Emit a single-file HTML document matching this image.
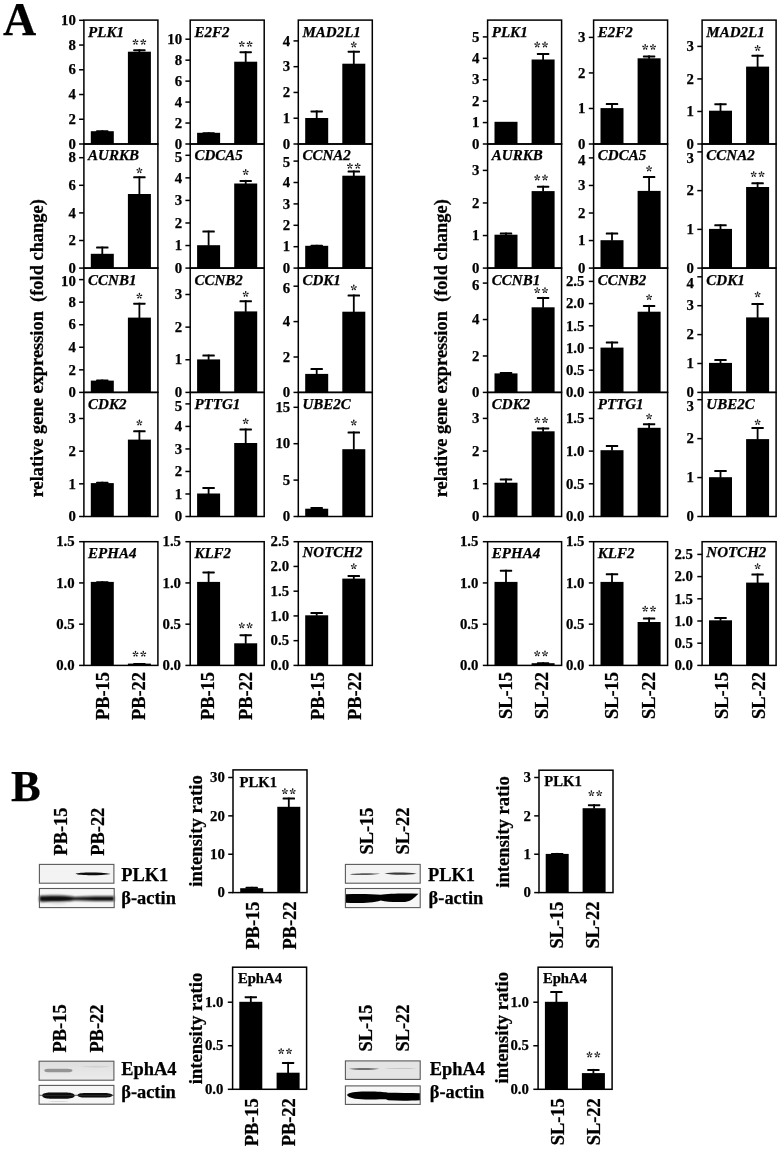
<!DOCTYPE html>
<html><head><meta charset="utf-8"><style>
html,body{margin:0;padding:0;background:#fff;overflow:hidden;width:781px;height:1150px;-webkit-font-smoothing:antialiased;}
svg{display:block;will-change:transform;}
text{font-family:"Liberation Serif",serif;stroke:#000;stroke-width:0.25px;}
.st{stroke:none;}
.tk{font-size:14.8px;font-weight:bold;text-anchor:end;}
.gn{font-size:15.0px;font-weight:bold;font-style:italic;}
.gb{font-size:15.0px;font-weight:bold;}
.st{font-size:15.0px;text-anchor:middle;letter-spacing:1px;}
.xl{font-size:18.4px;font-weight:bold;text-anchor:end;}
.yt{font-size:18.4px;font-weight:bold;text-anchor:middle;}
.it{font-size:18.7px;font-weight:bold;text-anchor:middle;}
.pl{font-size:46px;font-weight:bold;}
.bl{font-size:18.4px;font-weight:bold;}
</style></head><body>
<svg width="781" height="1150" viewBox="0 0 781 1150">
<defs>
<g id="ast" fill="#111"><path d="M0,0 C0.7,-0.2 1.6,-0.8 2.3,-0.78 A0.78,0.78 0 0 1 2.3,0.78 C1.6,0.8 0.7,0.2 0,0Z" transform="rotate(-90)"/><path d="M0,0 C0.7,-0.2 1.6,-0.8 2.3,-0.78 A0.78,0.78 0 0 1 2.3,0.78 C1.6,0.8 0.7,0.2 0,0Z" transform="rotate(-18)"/><path d="M0,0 C0.7,-0.2 1.6,-0.8 2.3,-0.78 A0.78,0.78 0 0 1 2.3,0.78 C1.6,0.8 0.7,0.2 0,0Z" transform="rotate(54)"/><path d="M0,0 C0.7,-0.2 1.6,-0.8 2.3,-0.78 A0.78,0.78 0 0 1 2.3,0.78 C1.6,0.8 0.7,0.2 0,0Z" transform="rotate(126)"/><path d="M0,0 C0.7,-0.2 1.6,-0.8 2.3,-0.78 A0.78,0.78 0 0 1 2.3,0.78 C1.6,0.8 0.7,0.2 0,0Z" transform="rotate(198)"/></g>
<filter id="s5" x="-20%" y="-100%" width="140%" height="300%"><feGaussianBlur stdDeviation="0.5"/></filter>
<filter id="s6" x="-20%" y="-100%" width="140%" height="300%"><feGaussianBlur stdDeviation="0.6"/></filter>
<filter id="s8" x="-20%" y="-100%" width="140%" height="300%"><feGaussianBlur stdDeviation="0.8"/></filter>
</defs>
<rect x="90.8" y="131.2" width="23" height="12.8"/>
<rect x="101.4" y="130.2" width="1.8" height="1.5"/>
<rect x="96.1" y="130.2" width="12.4" height="2.0" rx="0.6"/>
<rect x="127.9" y="51.7" width="23" height="92.3"/>
<rect x="138.5" y="49.2" width="1.8" height="3"/>
<rect x="133.2" y="49.2" width="12.4" height="2.0" rx="0.6"/>
<rect x="83.9" y="20.1" width="74" height="123.9" fill="none" stroke="#000" stroke-width="1.5"/>
<line x1="79.1" y1="144" x2="83.9" y2="144" stroke="#000" stroke-width="1.5"/>
<text class="tk" x="75.8" y="148.7">0</text>
<line x1="79.1" y1="119.26" x2="83.9" y2="119.26" stroke="#000" stroke-width="1.5"/>
<text class="tk" x="75.8" y="123.96">2</text>
<line x1="79.1" y1="94.52" x2="83.9" y2="94.52" stroke="#000" stroke-width="1.5"/>
<text class="tk" x="75.8" y="99.22">4</text>
<line x1="79.1" y1="69.78" x2="83.9" y2="69.78" stroke="#000" stroke-width="1.5"/>
<text class="tk" x="75.8" y="74.48">6</text>
<line x1="79.1" y1="45.04" x2="83.9" y2="45.04" stroke="#000" stroke-width="1.5"/>
<text class="tk" x="75.8" y="49.74">8</text>
<line x1="79.1" y1="20.3" x2="83.9" y2="20.3" stroke="#000" stroke-width="1.5"/>
<text class="tk" x="75.8" y="25">10</text>
<use href="#ast" x="135.5" y="42"/>
<use href="#ast" x="143.3" y="42"/>
<text class="gn" x="88.1" y="37.3">PLK1</text>
<rect x="197.1" y="132.8" width="23" height="11.2"/>
<rect x="207.7" y="132.3" width="1.8" height="1"/>
<rect x="202.4" y="132.3" width="12.4" height="2.0" rx="0.6"/>
<rect x="234.2" y="61.7" width="23" height="82.3"/>
<rect x="244.8" y="51.2" width="1.8" height="11"/>
<rect x="239.5" y="51.2" width="12.4" height="2.0" rx="0.6"/>
<rect x="190.2" y="20.1" width="74" height="123.9" fill="none" stroke="#000" stroke-width="1.5"/>
<line x1="185.4" y1="144" x2="190.2" y2="144" stroke="#000" stroke-width="1.5"/>
<text class="tk" x="182.1" y="148.7">0</text>
<line x1="185.4" y1="123.04" x2="190.2" y2="123.04" stroke="#000" stroke-width="1.5"/>
<text class="tk" x="182.1" y="127.74">2</text>
<line x1="185.4" y1="102.08" x2="190.2" y2="102.08" stroke="#000" stroke-width="1.5"/>
<text class="tk" x="182.1" y="106.78">4</text>
<line x1="185.4" y1="81.12" x2="190.2" y2="81.12" stroke="#000" stroke-width="1.5"/>
<text class="tk" x="182.1" y="85.82">6</text>
<line x1="185.4" y1="60.16" x2="190.2" y2="60.16" stroke="#000" stroke-width="1.5"/>
<text class="tk" x="182.1" y="64.86">8</text>
<line x1="185.4" y1="39.2" x2="190.2" y2="39.2" stroke="#000" stroke-width="1.5"/>
<text class="tk" x="182.1" y="43.9">10</text>
<use href="#ast" x="241.8" y="44"/>
<use href="#ast" x="249.6" y="44"/>
<text class="gn" x="194.4" y="37.3">E2F2</text>
<rect x="305.2" y="118" width="23" height="26"/>
<rect x="315.8" y="110.4" width="1.8" height="8.1"/>
<rect x="310.5" y="110.4" width="12.4" height="2.0" rx="0.6"/>
<rect x="342.3" y="63.7" width="23" height="80.3"/>
<rect x="352.9" y="50.7" width="1.8" height="13.5"/>
<rect x="347.6" y="50.7" width="12.4" height="2.0" rx="0.6"/>
<rect x="298.3" y="20.1" width="74" height="123.9" fill="none" stroke="#000" stroke-width="1.5"/>
<line x1="293.5" y1="144" x2="298.3" y2="144" stroke="#000" stroke-width="1.5"/>
<text class="tk" x="290.2" y="148.7">0</text>
<line x1="293.5" y1="118.22" x2="298.3" y2="118.22" stroke="#000" stroke-width="1.5"/>
<text class="tk" x="290.2" y="122.92">1</text>
<line x1="293.5" y1="92.45" x2="298.3" y2="92.45" stroke="#000" stroke-width="1.5"/>
<text class="tk" x="290.2" y="97.15">2</text>
<line x1="293.5" y1="66.68" x2="298.3" y2="66.68" stroke="#000" stroke-width="1.5"/>
<text class="tk" x="290.2" y="71.38">3</text>
<line x1="293.5" y1="40.9" x2="298.3" y2="40.9" stroke="#000" stroke-width="1.5"/>
<text class="tk" x="290.2" y="45.6">4</text>
<use href="#ast" x="353.8" y="44.7"/>
<text class="gn" x="302.5" y="37.3">MAD2L1</text>
<rect x="90.8" y="253.8" width="23" height="14.3"/>
<rect x="101.4" y="246.6" width="1.8" height="7.7"/>
<rect x="96.1" y="246.6" width="12.4" height="2.0" rx="0.6"/>
<rect x="127.9" y="194" width="23" height="74.1"/>
<rect x="138.5" y="176.3" width="1.8" height="18.2"/>
<rect x="133.2" y="176.3" width="12.4" height="2.0" rx="0.6"/>
<rect x="83.9" y="144" width="74" height="124.1" fill="none" stroke="#000" stroke-width="1.5"/>
<line x1="79.1" y1="268.1" x2="83.9" y2="268.1" stroke="#000" stroke-width="1.5"/>
<text class="tk" x="75.8" y="272.8">0</text>
<line x1="79.1" y1="240.5" x2="83.9" y2="240.5" stroke="#000" stroke-width="1.5"/>
<text class="tk" x="75.8" y="245.2">2</text>
<line x1="79.1" y1="212.9" x2="83.9" y2="212.9" stroke="#000" stroke-width="1.5"/>
<text class="tk" x="75.8" y="217.6">4</text>
<line x1="79.1" y1="185.3" x2="83.9" y2="185.3" stroke="#000" stroke-width="1.5"/>
<text class="tk" x="75.8" y="190">6</text>
<line x1="79.1" y1="157.7" x2="83.9" y2="157.7" stroke="#000" stroke-width="1.5"/>
<text class="tk" x="75.8" y="162.4">8</text>
<use href="#ast" x="139.4" y="170.5"/>
<text class="gn" x="88.1" y="160.4">AURKB</text>
<rect x="197.1" y="245.2" width="23" height="22.9"/>
<rect x="207.7" y="230.6" width="1.8" height="15.1"/>
<rect x="202.4" y="230.6" width="12.4" height="2.0" rx="0.6"/>
<rect x="234.2" y="183.5" width="23" height="84.6"/>
<rect x="244.8" y="179.9" width="1.8" height="4.1"/>
<rect x="239.5" y="179.9" width="12.4" height="2.0" rx="0.6"/>
<rect x="190.2" y="144" width="74" height="124.1" fill="none" stroke="#000" stroke-width="1.5"/>
<line x1="185.4" y1="268.1" x2="190.2" y2="268.1" stroke="#000" stroke-width="1.5"/>
<text class="tk" x="182.1" y="272.8">0</text>
<line x1="185.4" y1="245.54" x2="190.2" y2="245.54" stroke="#000" stroke-width="1.5"/>
<text class="tk" x="182.1" y="250.24">1</text>
<line x1="185.4" y1="222.98" x2="190.2" y2="222.98" stroke="#000" stroke-width="1.5"/>
<text class="tk" x="182.1" y="227.68">2</text>
<line x1="185.4" y1="200.42" x2="190.2" y2="200.42" stroke="#000" stroke-width="1.5"/>
<text class="tk" x="182.1" y="205.12">3</text>
<line x1="185.4" y1="177.86" x2="190.2" y2="177.86" stroke="#000" stroke-width="1.5"/>
<text class="tk" x="182.1" y="182.56">4</text>
<line x1="185.4" y1="155.3" x2="190.2" y2="155.3" stroke="#000" stroke-width="1.5"/>
<text class="tk" x="182.1" y="162.4">5</text>
<use href="#ast" x="245.7" y="172.2"/>
<text class="gn" x="194.4" y="160.4">CDCA5</text>
<rect x="305.2" y="245.8" width="23" height="22.3"/>
<rect x="315.8" y="244.8" width="1.8" height="1.5"/>
<rect x="310.5" y="244.8" width="12.4" height="2.0" rx="0.6"/>
<rect x="342.3" y="175.7" width="23" height="92.4"/>
<rect x="352.9" y="170.5" width="1.8" height="5.7"/>
<rect x="347.6" y="170.5" width="12.4" height="2.0" rx="0.6"/>
<rect x="298.3" y="144" width="74" height="124.1" fill="none" stroke="#000" stroke-width="1.5"/>
<line x1="293.5" y1="268.1" x2="298.3" y2="268.1" stroke="#000" stroke-width="1.5"/>
<text class="tk" x="290.2" y="272.8">0</text>
<line x1="293.5" y1="246.7" x2="298.3" y2="246.7" stroke="#000" stroke-width="1.5"/>
<text class="tk" x="290.2" y="251.4">1</text>
<line x1="293.5" y1="225.3" x2="298.3" y2="225.3" stroke="#000" stroke-width="1.5"/>
<text class="tk" x="290.2" y="230">2</text>
<line x1="293.5" y1="203.9" x2="298.3" y2="203.9" stroke="#000" stroke-width="1.5"/>
<text class="tk" x="290.2" y="208.6">3</text>
<line x1="293.5" y1="182.5" x2="298.3" y2="182.5" stroke="#000" stroke-width="1.5"/>
<text class="tk" x="290.2" y="187.2">4</text>
<line x1="293.5" y1="161.1" x2="298.3" y2="161.1" stroke="#000" stroke-width="1.5"/>
<text class="tk" x="290.2" y="167.2">5</text>
<use href="#ast" x="349.9" y="166"/>
<use href="#ast" x="357.7" y="166"/>
<text class="gn" x="302.5" y="160.4">CCNA2</text>
<rect x="90.8" y="380.6" width="23" height="11.8"/>
<rect x="101.4" y="379.5" width="1.8" height="1.6"/>
<rect x="96.1" y="379.5" width="12.4" height="2.0" rx="0.6"/>
<rect x="127.9" y="317.6" width="23" height="74.8"/>
<rect x="138.5" y="302.7" width="1.8" height="15.4"/>
<rect x="133.2" y="302.7" width="12.4" height="2.0" rx="0.6"/>
<rect x="83.9" y="268.1" width="74" height="124.3" fill="none" stroke="#000" stroke-width="1.5"/>
<line x1="79.1" y1="392.4" x2="83.9" y2="392.4" stroke="#000" stroke-width="1.5"/>
<text class="tk" x="75.8" y="397.1">0</text>
<line x1="79.1" y1="369.84" x2="83.9" y2="369.84" stroke="#000" stroke-width="1.5"/>
<text class="tk" x="75.8" y="374.54">2</text>
<line x1="79.1" y1="347.28" x2="83.9" y2="347.28" stroke="#000" stroke-width="1.5"/>
<text class="tk" x="75.8" y="351.98">4</text>
<line x1="79.1" y1="324.72" x2="83.9" y2="324.72" stroke="#000" stroke-width="1.5"/>
<text class="tk" x="75.8" y="329.42">6</text>
<line x1="79.1" y1="302.16" x2="83.9" y2="302.16" stroke="#000" stroke-width="1.5"/>
<text class="tk" x="75.8" y="306.86">8</text>
<line x1="79.1" y1="279.6" x2="83.9" y2="279.6" stroke="#000" stroke-width="1.5"/>
<text class="tk" x="75.8" y="286.3">10</text>
<use href="#ast" x="139.4" y="295.9"/>
<text class="gn" x="88.1" y="284.8">CCNB1</text>
<rect x="197.1" y="359.4" width="23" height="33"/>
<rect x="207.7" y="354.6" width="1.8" height="5.3"/>
<rect x="202.4" y="354.6" width="12.4" height="2.0" rx="0.6"/>
<rect x="234.2" y="311.4" width="23" height="81"/>
<rect x="244.8" y="300.3" width="1.8" height="11.6"/>
<rect x="239.5" y="300.3" width="12.4" height="2.0" rx="0.6"/>
<rect x="190.2" y="268.1" width="74" height="124.3" fill="none" stroke="#000" stroke-width="1.5"/>
<line x1="185.4" y1="392.4" x2="190.2" y2="392.4" stroke="#000" stroke-width="1.5"/>
<text class="tk" x="182.1" y="397.1">0</text>
<line x1="185.4" y1="359.77" x2="190.2" y2="359.77" stroke="#000" stroke-width="1.5"/>
<text class="tk" x="182.1" y="364.47">1</text>
<line x1="185.4" y1="327.13" x2="190.2" y2="327.13" stroke="#000" stroke-width="1.5"/>
<text class="tk" x="182.1" y="331.83">2</text>
<line x1="185.4" y1="294.5" x2="190.2" y2="294.5" stroke="#000" stroke-width="1.5"/>
<text class="tk" x="182.1" y="299.2">3</text>
<use href="#ast" x="245.7" y="294.1"/>
<text class="gn" x="194.4" y="284.8">CCNB2</text>
<rect x="305.2" y="373.9" width="23" height="18.5"/>
<rect x="315.8" y="368.1" width="1.8" height="6.3"/>
<rect x="310.5" y="368.1" width="12.4" height="2.0" rx="0.6"/>
<rect x="342.3" y="311.7" width="23" height="80.7"/>
<rect x="352.9" y="294.5" width="1.8" height="17.7"/>
<rect x="347.6" y="294.5" width="12.4" height="2.0" rx="0.6"/>
<rect x="298.3" y="268.1" width="74" height="124.3" fill="none" stroke="#000" stroke-width="1.5"/>
<line x1="293.5" y1="392.4" x2="298.3" y2="392.4" stroke="#000" stroke-width="1.5"/>
<text class="tk" x="290.2" y="397.1">0</text>
<line x1="293.5" y1="357" x2="298.3" y2="357" stroke="#000" stroke-width="1.5"/>
<text class="tk" x="290.2" y="361.7">2</text>
<line x1="293.5" y1="321.6" x2="298.3" y2="321.6" stroke="#000" stroke-width="1.5"/>
<text class="tk" x="290.2" y="326.3">4</text>
<line x1="293.5" y1="286.2" x2="298.3" y2="286.2" stroke="#000" stroke-width="1.5"/>
<text class="tk" x="290.2" y="292.6">6</text>
<use href="#ast" x="353.8" y="287.6"/>
<text class="gn" x="302.5" y="284.8">CDK1</text>
<rect x="90.8" y="483.1" width="23" height="33.4"/>
<rect x="101.4" y="481.7" width="1.8" height="1.9"/>
<rect x="96.1" y="481.7" width="12.4" height="2.0" rx="0.6"/>
<rect x="127.9" y="439.6" width="23" height="76.9"/>
<rect x="138.5" y="430.3" width="1.8" height="9.8"/>
<rect x="133.2" y="430.3" width="12.4" height="2.0" rx="0.6"/>
<rect x="83.9" y="392.4" width="74" height="124.1" fill="none" stroke="#000" stroke-width="1.5"/>
<line x1="79.1" y1="516.5" x2="83.9" y2="516.5" stroke="#000" stroke-width="1.5"/>
<text class="tk" x="75.8" y="521.2">0</text>
<line x1="79.1" y1="483.83" x2="83.9" y2="483.83" stroke="#000" stroke-width="1.5"/>
<text class="tk" x="75.8" y="488.53">1</text>
<line x1="79.1" y1="451.17" x2="83.9" y2="451.17" stroke="#000" stroke-width="1.5"/>
<text class="tk" x="75.8" y="455.87">2</text>
<line x1="79.1" y1="418.5" x2="83.9" y2="418.5" stroke="#000" stroke-width="1.5"/>
<text class="tk" x="75.8" y="423.2">3</text>
<use href="#ast" x="139.4" y="422.7"/>
<text class="gn" x="88.1" y="408.5">CDK2</text>
<rect x="197.1" y="493.5" width="23" height="23"/>
<rect x="207.7" y="487" width="1.8" height="7"/>
<rect x="202.4" y="487" width="12.4" height="2.0" rx="0.6"/>
<rect x="234.2" y="443" width="23" height="73.5"/>
<rect x="244.8" y="428.5" width="1.8" height="15"/>
<rect x="239.5" y="428.5" width="12.4" height="2.0" rx="0.6"/>
<rect x="190.2" y="392.4" width="74" height="124.1" fill="none" stroke="#000" stroke-width="1.5"/>
<line x1="185.4" y1="516.5" x2="190.2" y2="516.5" stroke="#000" stroke-width="1.5"/>
<text class="tk" x="182.1" y="521.2">0</text>
<line x1="185.4" y1="493.98" x2="190.2" y2="493.98" stroke="#000" stroke-width="1.5"/>
<text class="tk" x="182.1" y="498.68">1</text>
<line x1="185.4" y1="471.46" x2="190.2" y2="471.46" stroke="#000" stroke-width="1.5"/>
<text class="tk" x="182.1" y="476.16">2</text>
<line x1="185.4" y1="448.94" x2="190.2" y2="448.94" stroke="#000" stroke-width="1.5"/>
<text class="tk" x="182.1" y="453.64">3</text>
<line x1="185.4" y1="426.42" x2="190.2" y2="426.42" stroke="#000" stroke-width="1.5"/>
<text class="tk" x="182.1" y="431.12">4</text>
<line x1="185.4" y1="403.9" x2="190.2" y2="403.9" stroke="#000" stroke-width="1.5"/>
<text class="tk" x="182.1" y="411.1">5</text>
<use href="#ast" x="245.7" y="421.3"/>
<text class="gn" x="194.4" y="408.5">PTTG1</text>
<rect x="305.2" y="508.7" width="23" height="7.8"/>
<rect x="315.8" y="507" width="1.8" height="2.2"/>
<rect x="310.5" y="507" width="12.4" height="2.0" rx="0.6"/>
<rect x="342.3" y="449.2" width="23" height="67.3"/>
<rect x="352.9" y="431.5" width="1.8" height="18.2"/>
<rect x="347.6" y="431.5" width="12.4" height="2.0" rx="0.6"/>
<rect x="298.3" y="392.4" width="74" height="124.1" fill="none" stroke="#000" stroke-width="1.5"/>
<line x1="293.5" y1="516.5" x2="298.3" y2="516.5" stroke="#000" stroke-width="1.5"/>
<text class="tk" x="290.2" y="521.2">0</text>
<line x1="293.5" y1="480.1" x2="298.3" y2="480.1" stroke="#000" stroke-width="1.5"/>
<text class="tk" x="290.2" y="484.8">5</text>
<line x1="293.5" y1="443.7" x2="298.3" y2="443.7" stroke="#000" stroke-width="1.5"/>
<text class="tk" x="290.2" y="448.4">10</text>
<line x1="293.5" y1="407.3" x2="298.3" y2="407.3" stroke="#000" stroke-width="1.5"/>
<text class="tk" x="290.2" y="412">15</text>
<use href="#ast" x="353.8" y="422.7"/>
<text class="gn" x="302.5" y="408.5">UBE2C</text>
<rect x="494.5" y="121.8" width="23" height="22.2"/>
<rect x="531.6" y="59.5" width="23" height="84.5"/>
<rect x="542.2" y="53" width="1.8" height="7"/>
<rect x="536.9" y="53" width="12.4" height="2.0" rx="0.6"/>
<rect x="487.6" y="20.1" width="74" height="123.9" fill="none" stroke="#000" stroke-width="1.5"/>
<line x1="482.8" y1="144" x2="487.6" y2="144" stroke="#000" stroke-width="1.5"/>
<text class="tk" x="479.5" y="148.7">0</text>
<line x1="482.8" y1="122.58" x2="487.6" y2="122.58" stroke="#000" stroke-width="1.5"/>
<text class="tk" x="479.5" y="127.28">1</text>
<line x1="482.8" y1="101.16" x2="487.6" y2="101.16" stroke="#000" stroke-width="1.5"/>
<text class="tk" x="479.5" y="105.86">2</text>
<line x1="482.8" y1="79.74" x2="487.6" y2="79.74" stroke="#000" stroke-width="1.5"/>
<text class="tk" x="479.5" y="84.44">3</text>
<line x1="482.8" y1="58.32" x2="487.6" y2="58.32" stroke="#000" stroke-width="1.5"/>
<text class="tk" x="479.5" y="63.02">4</text>
<line x1="482.8" y1="36.9" x2="487.6" y2="36.9" stroke="#000" stroke-width="1.5"/>
<text class="tk" x="479.5" y="41.6">5</text>
<use href="#ast" x="537.2" y="44.7"/>
<use href="#ast" x="545" y="44.7"/>
<text class="gn" x="491.8" y="37.3">PLK1</text>
<rect x="600.5" y="108.1" width="23" height="35.9"/>
<rect x="611.1" y="103.1" width="1.8" height="5.5"/>
<rect x="605.8" y="103.1" width="12.4" height="2.0" rx="0.6"/>
<rect x="637.6" y="58.3" width="23" height="85.7"/>
<rect x="648.2" y="55.4" width="1.8" height="3.4"/>
<rect x="642.9" y="55.4" width="12.4" height="2.0" rx="0.6"/>
<rect x="593.6" y="20.1" width="74" height="123.9" fill="none" stroke="#000" stroke-width="1.5"/>
<line x1="588.8" y1="144" x2="593.6" y2="144" stroke="#000" stroke-width="1.5"/>
<text class="tk" x="585.5" y="148.7">0</text>
<line x1="588.8" y1="108.47" x2="593.6" y2="108.47" stroke="#000" stroke-width="1.5"/>
<text class="tk" x="585.5" y="113.17">1</text>
<line x1="588.8" y1="72.93" x2="593.6" y2="72.93" stroke="#000" stroke-width="1.5"/>
<text class="tk" x="585.5" y="77.63">2</text>
<line x1="588.8" y1="37.4" x2="593.6" y2="37.4" stroke="#000" stroke-width="1.5"/>
<text class="tk" x="585.5" y="42.1">3</text>
<use href="#ast" x="645.2" y="47.1"/>
<use href="#ast" x="653" y="47.1"/>
<text class="gn" x="597.8" y="37.3">E2F2</text>
<rect x="709" y="110.7" width="23" height="33.3"/>
<rect x="719.6" y="103.2" width="1.8" height="8"/>
<rect x="714.3" y="103.2" width="12.4" height="2.0" rx="0.6"/>
<rect x="746.1" y="66.6" width="23" height="77.4"/>
<rect x="756.7" y="54.7" width="1.8" height="12.4"/>
<rect x="751.4" y="54.7" width="12.4" height="2.0" rx="0.6"/>
<rect x="702.1" y="20.1" width="74" height="123.9" fill="none" stroke="#000" stroke-width="1.5"/>
<line x1="697.3" y1="144" x2="702.1" y2="144" stroke="#000" stroke-width="1.5"/>
<text class="tk" x="694" y="148.7">0</text>
<line x1="697.3" y1="111.47" x2="702.1" y2="111.47" stroke="#000" stroke-width="1.5"/>
<text class="tk" x="694" y="116.17">1</text>
<line x1="697.3" y1="78.93" x2="702.1" y2="78.93" stroke="#000" stroke-width="1.5"/>
<text class="tk" x="694" y="83.63">2</text>
<line x1="697.3" y1="46.4" x2="702.1" y2="46.4" stroke="#000" stroke-width="1.5"/>
<text class="tk" x="694" y="51.1">3</text>
<use href="#ast" x="757.6" y="48.2"/>
<text class="gn" x="706.3" y="37.3">MAD2L1</text>
<rect x="494.5" y="234.7" width="23" height="33.4"/>
<rect x="505.1" y="232.6" width="1.8" height="2.6"/>
<rect x="499.8" y="232.6" width="12.4" height="2.0" rx="0.6"/>
<rect x="531.6" y="191.1" width="23" height="77"/>
<rect x="542.2" y="185.7" width="1.8" height="5.9"/>
<rect x="536.9" y="185.7" width="12.4" height="2.0" rx="0.6"/>
<rect x="487.6" y="144" width="74" height="124.1" fill="none" stroke="#000" stroke-width="1.5"/>
<line x1="482.8" y1="268.1" x2="487.6" y2="268.1" stroke="#000" stroke-width="1.5"/>
<text class="tk" x="479.5" y="272.8">0</text>
<line x1="482.8" y1="235.53" x2="487.6" y2="235.53" stroke="#000" stroke-width="1.5"/>
<text class="tk" x="479.5" y="240.23">1</text>
<line x1="482.8" y1="202.97" x2="487.6" y2="202.97" stroke="#000" stroke-width="1.5"/>
<text class="tk" x="479.5" y="207.67">2</text>
<line x1="482.8" y1="170.4" x2="487.6" y2="170.4" stroke="#000" stroke-width="1.5"/>
<text class="tk" x="479.5" y="175.1">3</text>
<use href="#ast" x="537.2" y="177.7"/>
<use href="#ast" x="545" y="177.7"/>
<text class="gn" x="491.8" y="160.4">AURKB</text>
<rect x="600.5" y="240.2" width="23" height="27.9"/>
<rect x="611.1" y="232.6" width="1.8" height="8.1"/>
<rect x="605.8" y="232.6" width="12.4" height="2.0" rx="0.6"/>
<rect x="637.6" y="190.9" width="23" height="77.2"/>
<rect x="648.2" y="176.1" width="1.8" height="15.3"/>
<rect x="642.9" y="176.1" width="12.4" height="2.0" rx="0.6"/>
<rect x="593.6" y="144" width="74" height="124.1" fill="none" stroke="#000" stroke-width="1.5"/>
<line x1="588.8" y1="268.1" x2="593.6" y2="268.1" stroke="#000" stroke-width="1.5"/>
<text class="tk" x="585.5" y="272.8">0</text>
<line x1="588.8" y1="240.55" x2="593.6" y2="240.55" stroke="#000" stroke-width="1.5"/>
<text class="tk" x="585.5" y="245.25">1</text>
<line x1="588.8" y1="213" x2="593.6" y2="213" stroke="#000" stroke-width="1.5"/>
<text class="tk" x="585.5" y="217.7">2</text>
<line x1="588.8" y1="185.45" x2="593.6" y2="185.45" stroke="#000" stroke-width="1.5"/>
<text class="tk" x="585.5" y="190.15">3</text>
<line x1="588.8" y1="157.9" x2="593.6" y2="157.9" stroke="#000" stroke-width="1.5"/>
<text class="tk" x="585.5" y="165.1">4</text>
<use href="#ast" x="649.1" y="168.7"/>
<text class="gn" x="597.8" y="160.4">CDCA5</text>
<rect x="709" y="228.9" width="23" height="39.2"/>
<rect x="719.6" y="224.3" width="1.8" height="5.1"/>
<rect x="714.3" y="224.3" width="12.4" height="2.0" rx="0.6"/>
<rect x="746.1" y="187" width="23" height="81.1"/>
<rect x="756.7" y="182.3" width="1.8" height="5.2"/>
<rect x="751.4" y="182.3" width="12.4" height="2.0" rx="0.6"/>
<rect x="702.1" y="144" width="74" height="124.1" fill="none" stroke="#000" stroke-width="1.5"/>
<line x1="697.3" y1="268.1" x2="702.1" y2="268.1" stroke="#000" stroke-width="1.5"/>
<text class="tk" x="694" y="272.8">0</text>
<line x1="697.3" y1="229.37" x2="702.1" y2="229.37" stroke="#000" stroke-width="1.5"/>
<text class="tk" x="694" y="234.07">1</text>
<line x1="697.3" y1="190.63" x2="702.1" y2="190.63" stroke="#000" stroke-width="1.5"/>
<text class="tk" x="694" y="195.33">2</text>
<line x1="697.3" y1="151.9" x2="702.1" y2="151.9" stroke="#000" stroke-width="1.5"/>
<text class="tk" x="694" y="163.1">3</text>
<use href="#ast" x="753.7" y="174.3"/>
<use href="#ast" x="761.5" y="174.3"/>
<text class="gn" x="706.3" y="160.4">CCNA2</text>
<rect x="494.5" y="373.4" width="23" height="19"/>
<rect x="505.1" y="372" width="1.8" height="1.9"/>
<rect x="499.8" y="372" width="12.4" height="2.0" rx="0.6"/>
<rect x="531.6" y="307.3" width="23" height="85.1"/>
<rect x="542.2" y="296.9" width="1.8" height="10.9"/>
<rect x="536.9" y="296.9" width="12.4" height="2.0" rx="0.6"/>
<rect x="487.6" y="268.1" width="74" height="124.3" fill="none" stroke="#000" stroke-width="1.5"/>
<line x1="482.8" y1="392.4" x2="487.6" y2="392.4" stroke="#000" stroke-width="1.5"/>
<text class="tk" x="479.5" y="397.1">0</text>
<line x1="482.8" y1="355.97" x2="487.6" y2="355.97" stroke="#000" stroke-width="1.5"/>
<text class="tk" x="479.5" y="360.67">2</text>
<line x1="482.8" y1="319.53" x2="487.6" y2="319.53" stroke="#000" stroke-width="1.5"/>
<text class="tk" x="479.5" y="324.23">4</text>
<line x1="482.8" y1="283.1" x2="487.6" y2="283.1" stroke="#000" stroke-width="1.5"/>
<text class="tk" x="479.5" y="289.8">6</text>
<use href="#ast" x="537.2" y="290.4"/>
<use href="#ast" x="545" y="290.4"/>
<text class="gn" x="491.8" y="284.8">CCNB1</text>
<rect x="600.5" y="347.6" width="23" height="44.8"/>
<rect x="611.1" y="341.6" width="1.8" height="6.5"/>
<rect x="605.8" y="341.6" width="12.4" height="2.0" rx="0.6"/>
<rect x="637.6" y="311.7" width="23" height="80.7"/>
<rect x="648.2" y="304.9" width="1.8" height="7.3"/>
<rect x="642.9" y="304.9" width="12.4" height="2.0" rx="0.6"/>
<rect x="593.6" y="268.1" width="74" height="124.3" fill="none" stroke="#000" stroke-width="1.5"/>
<line x1="588.8" y1="392.4" x2="593.6" y2="392.4" stroke="#000" stroke-width="1.5"/>
<text class="tk" x="584.4" y="397.1">0.0</text>
<line x1="588.8" y1="370.2" x2="593.6" y2="370.2" stroke="#000" stroke-width="1.5"/>
<text class="tk" x="584.4" y="374.9">0.5</text>
<line x1="588.8" y1="348" x2="593.6" y2="348" stroke="#000" stroke-width="1.5"/>
<text class="tk" x="584.4" y="352.7">1.0</text>
<line x1="588.8" y1="325.8" x2="593.6" y2="325.8" stroke="#000" stroke-width="1.5"/>
<text class="tk" x="584.4" y="330.5">1.5</text>
<line x1="588.8" y1="303.6" x2="593.6" y2="303.6" stroke="#000" stroke-width="1.5"/>
<text class="tk" x="584.4" y="308.3">2.0</text>
<line x1="588.8" y1="281.4" x2="593.6" y2="281.4" stroke="#000" stroke-width="1.5"/>
<text class="tk" x="584.4" y="286.1">2.5</text>
<use href="#ast" x="649.1" y="297.3"/>
<text class="gn" x="597.8" y="284.8">CCNB2</text>
<rect x="709" y="362.9" width="23" height="29.5"/>
<rect x="719.6" y="359.1" width="1.8" height="4.3"/>
<rect x="714.3" y="359.1" width="12.4" height="2.0" rx="0.6"/>
<rect x="746.1" y="317.4" width="23" height="75"/>
<rect x="756.7" y="303.1" width="1.8" height="14.8"/>
<rect x="751.4" y="303.1" width="12.4" height="2.0" rx="0.6"/>
<rect x="702.1" y="268.1" width="74" height="124.3" fill="none" stroke="#000" stroke-width="1.5"/>
<line x1="697.3" y1="392.4" x2="702.1" y2="392.4" stroke="#000" stroke-width="1.5"/>
<text class="tk" x="694" y="397.1">0</text>
<line x1="697.3" y1="363.5" x2="702.1" y2="363.5" stroke="#000" stroke-width="1.5"/>
<text class="tk" x="694" y="368.2">1</text>
<line x1="697.3" y1="334.6" x2="702.1" y2="334.6" stroke="#000" stroke-width="1.5"/>
<text class="tk" x="694" y="339.3">2</text>
<line x1="697.3" y1="305.7" x2="702.1" y2="305.7" stroke="#000" stroke-width="1.5"/>
<text class="tk" x="694" y="310.4">3</text>
<line x1="697.3" y1="276.8" x2="702.1" y2="276.8" stroke="#000" stroke-width="1.5"/>
<text class="tk" x="694" y="288.4">4</text>
<use href="#ast" x="757.6" y="294.5"/>
<text class="gn" x="706.3" y="284.8">CDK1</text>
<rect x="494.5" y="482.7" width="23" height="33.8"/>
<rect x="505.1" y="478.6" width="1.8" height="4.6"/>
<rect x="499.8" y="478.6" width="12.4" height="2.0" rx="0.6"/>
<rect x="531.6" y="431.3" width="23" height="85.2"/>
<rect x="542.2" y="427.4" width="1.8" height="4.4"/>
<rect x="536.9" y="427.4" width="12.4" height="2.0" rx="0.6"/>
<rect x="487.6" y="392.4" width="74" height="124.1" fill="none" stroke="#000" stroke-width="1.5"/>
<line x1="482.8" y1="516.5" x2="487.6" y2="516.5" stroke="#000" stroke-width="1.5"/>
<text class="tk" x="479.5" y="521.2">0</text>
<line x1="482.8" y1="483.8" x2="487.6" y2="483.8" stroke="#000" stroke-width="1.5"/>
<text class="tk" x="479.5" y="488.5">1</text>
<line x1="482.8" y1="451.1" x2="487.6" y2="451.1" stroke="#000" stroke-width="1.5"/>
<text class="tk" x="479.5" y="455.8">2</text>
<line x1="482.8" y1="418.4" x2="487.6" y2="418.4" stroke="#000" stroke-width="1.5"/>
<text class="tk" x="479.5" y="423.1">3</text>
<use href="#ast" x="537.2" y="420.2"/>
<use href="#ast" x="545" y="420.2"/>
<text class="gn" x="491.8" y="408.5">CDK2</text>
<rect x="600.5" y="450.2" width="23" height="66.3"/>
<rect x="611.1" y="445.1" width="1.8" height="5.6"/>
<rect x="605.8" y="445.1" width="12.4" height="2.0" rx="0.6"/>
<rect x="637.6" y="427.8" width="23" height="88.7"/>
<rect x="648.2" y="423.2" width="1.8" height="5.1"/>
<rect x="642.9" y="423.2" width="12.4" height="2.0" rx="0.6"/>
<rect x="593.6" y="392.4" width="74" height="124.1" fill="none" stroke="#000" stroke-width="1.5"/>
<line x1="588.8" y1="516.5" x2="593.6" y2="516.5" stroke="#000" stroke-width="1.5"/>
<text class="tk" x="584.4" y="521.2">0.0</text>
<line x1="588.8" y1="483.8" x2="593.6" y2="483.8" stroke="#000" stroke-width="1.5"/>
<text class="tk" x="584.4" y="488.5">0.5</text>
<line x1="588.8" y1="451.1" x2="593.6" y2="451.1" stroke="#000" stroke-width="1.5"/>
<text class="tk" x="584.4" y="455.8">1.0</text>
<line x1="588.8" y1="418.4" x2="593.6" y2="418.4" stroke="#000" stroke-width="1.5"/>
<text class="tk" x="584.4" y="423.1">1.5</text>
<use href="#ast" x="649.1" y="416.5"/>
<text class="gn" x="597.8" y="408.5">PTTG1</text>
<rect x="709" y="477.2" width="23" height="39.3"/>
<rect x="719.6" y="470" width="1.8" height="7.7"/>
<rect x="714.3" y="470" width="12.4" height="2.0" rx="0.6"/>
<rect x="746.1" y="439.1" width="23" height="77.4"/>
<rect x="756.7" y="427.1" width="1.8" height="12.5"/>
<rect x="751.4" y="427.1" width="12.4" height="2.0" rx="0.6"/>
<rect x="702.1" y="392.4" width="74" height="124.1" fill="none" stroke="#000" stroke-width="1.5"/>
<line x1="697.3" y1="516.5" x2="702.1" y2="516.5" stroke="#000" stroke-width="1.5"/>
<text class="tk" x="694" y="521.2">0</text>
<line x1="697.3" y1="477.57" x2="702.1" y2="477.57" stroke="#000" stroke-width="1.5"/>
<text class="tk" x="694" y="482.27">1</text>
<line x1="697.3" y1="438.63" x2="702.1" y2="438.63" stroke="#000" stroke-width="1.5"/>
<text class="tk" x="694" y="443.33">2</text>
<line x1="697.3" y1="399.7" x2="702.1" y2="399.7" stroke="#000" stroke-width="1.5"/>
<text class="tk" x="694" y="411.1">3</text>
<use href="#ast" x="757.6" y="422.3"/>
<text class="gn" x="706.3" y="408.5">UBE2C</text>
<rect x="90.8" y="581.9" width="23" height="83.5"/>
<rect x="101.4" y="581.2" width="1.8" height="1.2"/>
<rect x="96.1" y="581.2" width="12.4" height="2.0" rx="0.6"/>
<rect x="127.9" y="663.6" width="23" height="1.8"/>
<rect x="138.5" y="663.1" width="1.8" height="1"/>
<rect x="133.2" y="663.1" width="12.4" height="2.0" rx="0.6"/>
<rect x="83.9" y="541.7" width="74" height="123.7" fill="none" stroke="#000" stroke-width="1.5"/>
<line x1="79.1" y1="665.4" x2="83.9" y2="665.4" stroke="#000" stroke-width="1.5"/>
<text class="tk" x="74.7" y="670.1">0.0</text>
<line x1="79.1" y1="624.17" x2="83.9" y2="624.17" stroke="#000" stroke-width="1.5"/>
<text class="tk" x="74.7" y="628.87">0.5</text>
<line x1="79.1" y1="582.93" x2="83.9" y2="582.93" stroke="#000" stroke-width="1.5"/>
<text class="tk" x="74.7" y="587.63">1.0</text>
<line x1="79.1" y1="541.7" x2="83.9" y2="541.7" stroke="#000" stroke-width="1.5"/>
<text class="tk" x="74.7" y="546.4">1.5</text>
<use href="#ast" x="135.5" y="653.9"/>
<use href="#ast" x="143.3" y="653.9"/>
<text class="gn" x="88.1" y="557.5">EPHA4</text>
<text class="xl" transform="translate(109,672) rotate(-90)">PB-15</text>
<text class="xl" transform="translate(144.6,672) rotate(-90)">PB-22</text>
<rect x="197.1" y="581.9" width="23" height="83.5"/>
<rect x="207.7" y="571.4" width="1.8" height="11"/>
<rect x="202.4" y="571.4" width="12.4" height="2.0" rx="0.6"/>
<rect x="234.2" y="643.3" width="23" height="22.1"/>
<rect x="244.8" y="634.2" width="1.8" height="9.6"/>
<rect x="239.5" y="634.2" width="12.4" height="2.0" rx="0.6"/>
<rect x="190.2" y="541.7" width="74" height="123.7" fill="none" stroke="#000" stroke-width="1.5"/>
<line x1="185.4" y1="665.4" x2="190.2" y2="665.4" stroke="#000" stroke-width="1.5"/>
<text class="tk" x="181" y="670.1">0.0</text>
<line x1="185.4" y1="624.17" x2="190.2" y2="624.17" stroke="#000" stroke-width="1.5"/>
<text class="tk" x="181" y="628.87">0.5</text>
<line x1="185.4" y1="582.93" x2="190.2" y2="582.93" stroke="#000" stroke-width="1.5"/>
<text class="tk" x="181" y="587.63">1.0</text>
<line x1="185.4" y1="541.7" x2="190.2" y2="541.7" stroke="#000" stroke-width="1.5"/>
<text class="tk" x="181" y="546.4">1.5</text>
<use href="#ast" x="241.8" y="625.6"/>
<use href="#ast" x="249.6" y="625.6"/>
<text class="gn" x="194.4" y="557.5">KLF2</text>
<text class="xl" transform="translate(214.3,672) rotate(-90)">PB-15</text>
<text class="xl" transform="translate(252,672) rotate(-90)">PB-22</text>
<rect x="305.2" y="615.3" width="23" height="50.1"/>
<rect x="315.8" y="612" width="1.8" height="3.8"/>
<rect x="310.5" y="612" width="12.4" height="2.0" rx="0.6"/>
<rect x="342.3" y="578.6" width="23" height="86.8"/>
<rect x="352.9" y="575" width="1.8" height="4.1"/>
<rect x="347.6" y="575" width="12.4" height="2.0" rx="0.6"/>
<rect x="298.3" y="541.7" width="74" height="123.7" fill="none" stroke="#000" stroke-width="1.5"/>
<line x1="293.5" y1="665.4" x2="298.3" y2="665.4" stroke="#000" stroke-width="1.5"/>
<text class="tk" x="289.1" y="670.1">0.0</text>
<line x1="293.5" y1="640.66" x2="298.3" y2="640.66" stroke="#000" stroke-width="1.5"/>
<text class="tk" x="289.1" y="645.36">0.5</text>
<line x1="293.5" y1="615.92" x2="298.3" y2="615.92" stroke="#000" stroke-width="1.5"/>
<text class="tk" x="289.1" y="620.62">1.0</text>
<line x1="293.5" y1="591.18" x2="298.3" y2="591.18" stroke="#000" stroke-width="1.5"/>
<text class="tk" x="289.1" y="595.88">1.5</text>
<line x1="293.5" y1="566.44" x2="298.3" y2="566.44" stroke="#000" stroke-width="1.5"/>
<text class="tk" x="289.1" y="571.14">2.0</text>
<line x1="293.5" y1="541.7" x2="298.3" y2="541.7" stroke="#000" stroke-width="1.5"/>
<text class="tk" x="289.1" y="546.4">2.5</text>
<use href="#ast" x="353.8" y="566.4"/>
<text class="gn" x="302.5" y="556.9">NOTCH2</text>
<text class="xl" transform="translate(324.1,672) rotate(-90)">PB-15</text>
<text class="xl" transform="translate(360.9,672) rotate(-90)">PB-22</text>
<rect x="494.5" y="581.9" width="23" height="83.5"/>
<rect x="505.1" y="569.7" width="1.8" height="12.7"/>
<rect x="499.8" y="569.7" width="12.4" height="2.0" rx="0.6"/>
<rect x="531.6" y="663.2" width="23" height="2.2"/>
<rect x="542.2" y="662.2" width="1.8" height="1.5"/>
<rect x="536.9" y="662.2" width="12.4" height="2.0" rx="0.6"/>
<rect x="487.6" y="541.7" width="74" height="123.7" fill="none" stroke="#000" stroke-width="1.5"/>
<line x1="482.8" y1="665.4" x2="487.6" y2="665.4" stroke="#000" stroke-width="1.5"/>
<text class="tk" x="478.4" y="670.1">0.0</text>
<line x1="482.8" y1="624.17" x2="487.6" y2="624.17" stroke="#000" stroke-width="1.5"/>
<text class="tk" x="478.4" y="628.87">0.5</text>
<line x1="482.8" y1="582.93" x2="487.6" y2="582.93" stroke="#000" stroke-width="1.5"/>
<text class="tk" x="478.4" y="587.63">1.0</text>
<line x1="482.8" y1="541.7" x2="487.6" y2="541.7" stroke="#000" stroke-width="1.5"/>
<text class="tk" x="478.4" y="546.4">1.5</text>
<use href="#ast" x="537.2" y="653.6"/>
<use href="#ast" x="545" y="653.6"/>
<text class="gn" x="491.8" y="557.5">EPHA4</text>
<text class="xl" transform="translate(511.9,672) rotate(-90)">SL-15</text>
<text class="xl" transform="translate(548.4,672) rotate(-90)">SL-22</text>
<rect x="600.5" y="581.9" width="23" height="83.5"/>
<rect x="611.1" y="573.3" width="1.8" height="9.1"/>
<rect x="605.8" y="573.3" width="12.4" height="2.0" rx="0.6"/>
<rect x="637.6" y="622" width="23" height="43.4"/>
<rect x="648.2" y="617.5" width="1.8" height="5"/>
<rect x="642.9" y="617.5" width="12.4" height="2.0" rx="0.6"/>
<rect x="593.6" y="541.7" width="74" height="123.7" fill="none" stroke="#000" stroke-width="1.5"/>
<line x1="588.8" y1="665.4" x2="593.6" y2="665.4" stroke="#000" stroke-width="1.5"/>
<text class="tk" x="584.4" y="670.1">0.0</text>
<line x1="588.8" y1="624.17" x2="593.6" y2="624.17" stroke="#000" stroke-width="1.5"/>
<text class="tk" x="584.4" y="628.87">0.5</text>
<line x1="588.8" y1="582.93" x2="593.6" y2="582.93" stroke="#000" stroke-width="1.5"/>
<text class="tk" x="584.4" y="587.63">1.0</text>
<line x1="588.8" y1="541.7" x2="593.6" y2="541.7" stroke="#000" stroke-width="1.5"/>
<text class="tk" x="584.4" y="546.4">1.5</text>
<use href="#ast" x="645.2" y="608.9"/>
<use href="#ast" x="653" y="608.9"/>
<text class="gn" x="597.8" y="557.5">KLF2</text>
<text class="xl" transform="translate(618,672) rotate(-90)">SL-15</text>
<text class="xl" transform="translate(655.4,672) rotate(-90)">SL-22</text>
<rect x="709" y="620.3" width="23" height="45.1"/>
<rect x="719.6" y="617" width="1.8" height="3.8"/>
<rect x="714.3" y="617" width="12.4" height="2.0" rx="0.6"/>
<rect x="746.1" y="582.6" width="23" height="82.8"/>
<rect x="756.7" y="573.6" width="1.8" height="9.5"/>
<rect x="751.4" y="573.6" width="12.4" height="2.0" rx="0.6"/>
<rect x="702.1" y="541.7" width="74" height="123.7" fill="none" stroke="#000" stroke-width="1.5"/>
<line x1="697.3" y1="665.4" x2="702.1" y2="665.4" stroke="#000" stroke-width="1.5"/>
<text class="tk" x="692.9" y="670.1">0.0</text>
<line x1="697.3" y1="643.2" x2="702.1" y2="643.2" stroke="#000" stroke-width="1.5"/>
<text class="tk" x="692.9" y="647.9">0.5</text>
<line x1="697.3" y1="621" x2="702.1" y2="621" stroke="#000" stroke-width="1.5"/>
<text class="tk" x="692.9" y="625.7">1.0</text>
<line x1="697.3" y1="598.8" x2="702.1" y2="598.8" stroke="#000" stroke-width="1.5"/>
<text class="tk" x="692.9" y="603.5">1.5</text>
<line x1="697.3" y1="576.6" x2="702.1" y2="576.6" stroke="#000" stroke-width="1.5"/>
<text class="tk" x="692.9" y="581.3">2.0</text>
<line x1="697.3" y1="554.4" x2="702.1" y2="554.4" stroke="#000" stroke-width="1.5"/>
<text class="tk" x="692.9" y="559.1">2.5</text>
<use href="#ast" x="757.6" y="566.4"/>
<text class="gn" x="706.3" y="556.9">NOTCH2</text>
<text class="xl" transform="translate(727.9,672) rotate(-90)">SL-15</text>
<text class="xl" transform="translate(764.9,672) rotate(-90)">SL-22</text>
<text class="yt" transform="translate(43,348.3) rotate(-90)">relative gene expression&#160; (fold change)</text>
<text class="yt" transform="translate(446.7,348.3) rotate(-90)">relative gene expression&#160; (fold change)</text>
<text class="pl" x="2.9" y="34.9">A</text>
<text class="pl" x="11" y="800.5" style="font-size:44.5px">B</text>
<rect x="240.2" y="888.2" width="23" height="4.4"/>
<rect x="250.8" y="886.8" width="1.8" height="1.9"/>
<rect x="245.5" y="886.8" width="12.4" height="2.0" rx="0.6"/>
<rect x="277.3" y="806.8" width="23" height="85.8"/>
<rect x="287.9" y="797.6" width="1.8" height="9.7"/>
<rect x="282.6" y="797.6" width="12.4" height="2.0" rx="0.6"/>
<rect x="233" y="769.9" width="74" height="122.7" fill="none" stroke="#000" stroke-width="1.5"/>
<line x1="228.2" y1="892.6" x2="233" y2="892.6" stroke="#000" stroke-width="1.5"/>
<text class="tk" x="224.9" y="897.3">0</text>
<line x1="228.2" y1="854.23" x2="233" y2="854.23" stroke="#000" stroke-width="1.5"/>
<text class="tk" x="224.9" y="858.93">10</text>
<line x1="228.2" y1="815.87" x2="233" y2="815.87" stroke="#000" stroke-width="1.5"/>
<text class="tk" x="224.9" y="820.57">20</text>
<line x1="228.2" y1="777.5" x2="233" y2="777.5" stroke="#000" stroke-width="1.5"/>
<text class="tk" x="224.9" y="782.2">30</text>
<use href="#ast" x="284.9" y="791.4"/>
<use href="#ast" x="292.7" y="791.4"/>
<text class="gb" x="239.5" y="786.6" style="font-size:14.7px">PLK1</text>
<text class="xl" transform="translate(258.9,901.6) rotate(-90)">PB-15</text>
<text class="xl" transform="translate(295.8,901.6) rotate(-90)">PB-22</text>
<text class="it" transform="translate(201.7,831) rotate(-90)">intensity ratio</text>
<rect x="545.7" y="853.9" width="23" height="38.7"/>
<rect x="556.3" y="852.9" width="1.8" height="1.5"/>
<rect x="551" y="852.9" width="12.4" height="2.0" rx="0.6"/>
<rect x="582.6" y="808.2" width="23" height="84.4"/>
<rect x="593.2" y="804.2" width="1.8" height="4.5"/>
<rect x="587.9" y="804.2" width="12.4" height="2.0" rx="0.6"/>
<rect x="539" y="770.2" width="74" height="122.4" fill="none" stroke="#000" stroke-width="1.5"/>
<line x1="534.2" y1="892.6" x2="539" y2="892.6" stroke="#000" stroke-width="1.5"/>
<text class="tk" x="530.9" y="897.3">0</text>
<line x1="534.2" y1="854.23" x2="539" y2="854.23" stroke="#000" stroke-width="1.5"/>
<text class="tk" x="530.9" y="858.93">1</text>
<line x1="534.2" y1="815.87" x2="539" y2="815.87" stroke="#000" stroke-width="1.5"/>
<text class="tk" x="530.9" y="820.57">2</text>
<line x1="534.2" y1="777.5" x2="539" y2="777.5" stroke="#000" stroke-width="1.5"/>
<text class="tk" x="530.9" y="782.2">3</text>
<use href="#ast" x="591.4" y="793.4"/>
<use href="#ast" x="599.2" y="793.4"/>
<text class="gb" x="544.3" y="786.3" style="font-size:14.7px">PLK1</text>
<text class="xl" transform="translate(563.3,901.6) rotate(-90)">SL-15</text>
<text class="xl" transform="translate(599.2,901.6) rotate(-90)">SL-22</text>
<text class="it" transform="translate(509.3,832) rotate(-90)">intensity ratio</text>
<rect x="239.3" y="1001.8" width="23" height="87.5"/>
<rect x="249.9" y="996.2" width="1.8" height="6.1"/>
<rect x="244.6" y="996.2" width="12.4" height="2.0" rx="0.6"/>
<rect x="276.6" y="1072.7" width="23" height="16.6"/>
<rect x="287.2" y="1061.9" width="1.8" height="11.3"/>
<rect x="281.9" y="1061.9" width="12.4" height="2.0" rx="0.6"/>
<rect x="232.6" y="967.2" width="74" height="122.1" fill="none" stroke="#000" stroke-width="1.5"/>
<line x1="227.8" y1="1089.3" x2="232.6" y2="1089.3" stroke="#000" stroke-width="1.5"/>
<text class="tk" x="223.4" y="1094">0.0</text>
<line x1="227.8" y1="1045.75" x2="232.6" y2="1045.75" stroke="#000" stroke-width="1.5"/>
<text class="tk" x="223.4" y="1050.45">0.5</text>
<line x1="227.8" y1="1002.2" x2="232.6" y2="1002.2" stroke="#000" stroke-width="1.5"/>
<text class="tk" x="223.4" y="1006.9">1.0</text>
<use href="#ast" x="281.2" y="1051.3"/>
<use href="#ast" x="289" y="1051.3"/>
<text class="gb" x="237.9" y="983.2" style="font-size:14.7px">EphA4</text>
<text class="xl" transform="translate(258.1,1098.3) rotate(-90)">PB-15</text>
<text class="xl" transform="translate(294.6,1098.3) rotate(-90)">PB-22</text>
<text class="it" transform="translate(201.7,1028.5) rotate(-90)">intensity ratio</text>
<rect x="544.9" y="1001.8" width="23" height="87.5"/>
<rect x="555.5" y="991.1" width="1.8" height="11.2"/>
<rect x="550.2" y="991.1" width="12.4" height="2.0" rx="0.6"/>
<rect x="581.9" y="1073.1" width="23" height="16.2"/>
<rect x="592.5" y="1068.9" width="1.8" height="4.7"/>
<rect x="587.2" y="1068.9" width="12.4" height="2.0" rx="0.6"/>
<rect x="538.1" y="967.2" width="74" height="122.1" fill="none" stroke="#000" stroke-width="1.5"/>
<line x1="533.3" y1="1089.3" x2="538.1" y2="1089.3" stroke="#000" stroke-width="1.5"/>
<text class="tk" x="528.9" y="1094">0.0</text>
<line x1="533.3" y1="1045.75" x2="538.1" y2="1045.75" stroke="#000" stroke-width="1.5"/>
<text class="tk" x="528.9" y="1050.45">0.5</text>
<line x1="533.3" y1="1002.2" x2="538.1" y2="1002.2" stroke="#000" stroke-width="1.5"/>
<text class="tk" x="528.9" y="1006.9">1.0</text>
<use href="#ast" x="589.5" y="1054.7"/>
<use href="#ast" x="597.3" y="1054.7"/>
<text class="gb" x="542.9" y="983.2" style="font-size:14.7px">EphA4</text>
<text class="xl" transform="translate(564,1098.3) rotate(-90)">SL-15</text>
<text class="xl" transform="translate(599.8,1098.3) rotate(-90)">SL-22</text>
<text class="it" transform="translate(508.2,1027.7) rotate(-90)">intensity ratio</text>
<text class="xl" transform="translate(66.9,807.5) rotate(-90)">PB-15</text>
<text class="xl" transform="translate(103.9,807.7) rotate(-90)">PB-22</text>
<text class="xl" transform="translate(372.5,807.5) rotate(-90)">SL-15</text>
<text class="xl" transform="translate(409.3,807.5) rotate(-90)">SL-22</text>
<text class="xl" transform="translate(65.8,1004.4) rotate(-90)">PB-15</text>
<text class="xl" transform="translate(102.8,1004.6) rotate(-90)">PB-22</text>
<text class="xl" transform="translate(372.4,1004.5) rotate(-90)">SL-15</text>
<text class="xl" transform="translate(409.4,1004.5) rotate(-90)">SL-22</text>
<rect x="39.4" y="864.4" width="74.5" height="18.8" fill="#f3f3f3"/>
<g filter="url(#s6)"><path d="M75.3,873.8 C80,872.1 100,872.1 110.8,873.9 C100,875.7 80,875.7 75.3,873.8Z" fill="#0d0d0d"/></g>
<rect x="39.4" y="864.4" width="74.5" height="18.8" fill="none" stroke="#5a5a5a" stroke-width="1.1"/>
<rect x="39.4" y="888.5" width="74.8" height="19.1" fill="#f6f6f6"/>
<g filter="url(#s8)"><path d="M39.4,896 C50,895.1 65,895.3 75,897 C85,896.2 100,896.2 114.2,896.3 L114.2,901 C100,901.1 85,901.1 75,900.3 C65,902.1 50,902 39.4,901.4 Z" fill="#111"/><path d="M47,903.6 C55,903.2 62,903.2 68,903.6 C62,904.4 55,904.4 47,903.6Z" fill="#cfcfcf"/></g>
<rect x="39.4" y="888.5" width="74.8" height="19.1" fill="none" stroke="#5a5a5a" stroke-width="1.1"/>
<text class="bl" x="121.3" y="881">PLK1</text>
<text class="bl" x="121.3" y="903.6">&#946;-actin</text>
<rect x="345.4" y="864.4" width="74.8" height="18.8" fill="#f3f3f3"/>
<g filter="url(#s6)"><path d="M349.7,874.2 C356,873 372,872.8 380.2,873.8 C372,875.3 356,875.5 349.7,874.2Z" fill="#5a5a5a"/><path d="M384.5,873.4 C392,872.2 408,872.4 416.6,873.7 C408,875 392,875 384.5,873.4Z" fill="#3a3a3a"/></g>
<rect x="345.4" y="864.4" width="74.8" height="18.8" fill="none" stroke="#5a5a5a" stroke-width="1.1"/>
<rect x="345.4" y="888.5" width="74.8" height="19.1" fill="#f6f6f6"/>
<g filter="url(#s5)"><path d="M345.6,894.2 C360,893.9 372,894 380.7,894.8 C388,893.6 405,893.2 418.5,893.8 C414,898 411,901.5 405,901.9 C395,902.2 387,902 380.7,900.5 C372,903.2 358,903.3 345.6,902.8 Z" fill="#050505"/></g>
<rect x="345.4" y="888.5" width="74.8" height="19.1" fill="none" stroke="#5a5a5a" stroke-width="1.1"/>
<text class="bl" x="428" y="881">PLK1</text>
<text class="bl" x="428.6" y="903.6">&#946;-actin</text>
<defs><linearGradient id="g1" x1="0" y1="0" x2="0" y2="1"><stop offset="0" stop-color="#dedede"/><stop offset="1" stop-color="#ececec"/></linearGradient></defs>
<rect x="39.1" y="1061.2" width="74.8" height="19.0" fill="url(#g1)"/>
<g filter="url(#s6)"><path d="M44.2,1070.5 C44.5,1069 47,1068.8 50,1068.8 L67,1068.8 C71,1068.9 72.5,1069.5 72.5,1070.5 C72.5,1071.6 71,1072.2 67,1072.3 L50,1072.3 C47,1072.2 44.5,1072 44.2,1070.5Z" fill="#959595"/><path d="M80,1066.5 C90,1065.5 105,1065.5 111,1066.5 C105,1068 90,1068 80,1066.5Z" fill="#d2d2d2"/></g>
<rect x="39.1" y="1061.2" width="74.8" height="19.0" fill="none" stroke="#5a5a5a" stroke-width="1.1"/>
<rect x="39.1" y="1085.4" width="74.8" height="18.8" fill="#f6f6f6"/>
<g filter="url(#s6)"><path d="M42.1,1095.6 C42.5,1093.2 46,1092.6 50,1092.5 L67,1092.4 C72,1092.6 74.7,1094 74.7,1095.6 C74.7,1097.4 72,1098.6 67,1098.7 L50,1098.7 C46,1098.6 42.5,1098 42.1,1095.6Z" fill="#0a0a0a"/><path d="M77.4,1095.3 C77.8,1093.6 81,1093.1 85,1093 L105,1093 C109,1093.1 112.5,1094 112.5,1095.3 C112.5,1096.7 109,1097.5 105,1097.6 L85,1097.6 C81,1097.5 77.8,1097 77.4,1095.3Z" fill="#0a0a0a"/><path d="M39.1,1095.3 L113.9,1095.3" stroke="#333" stroke-width="0.8"/><path d="M47,1101.5 C55,1101.1 62,1101.1 70,1101.5 C62,1102.2 55,1102.2 47,1101.5Z" fill="#d0d0d0"/></g>
<rect x="39.1" y="1085.4" width="74.8" height="18.8" fill="none" stroke="#5a5a5a" stroke-width="1.1"/>
<text class="bl" x="121.2" y="1075">EphA4</text>
<text class="bl" x="121.2" y="1098.2">&#946;-actin</text>
<rect x="345.4" y="1060.9" width="74.8" height="18.5" fill="#e4e4e4"/>
<g filter="url(#s6)"><path d="M348.8,1068.8 C355,1067.6 372,1067.6 379.6,1068.8 C372,1070.4 355,1070.4 348.8,1068.8Z" fill="#707070"/><path d="M384,1068.6 C392,1067.9 408,1067.9 417,1068.4 C408,1069.3 392,1069.3 384,1068.6Z" fill="#c4c4c4"/></g>
<rect x="345.4" y="1060.9" width="74.8" height="18.5" fill="none" stroke="#5a5a5a" stroke-width="1.1"/>
<rect x="345.4" y="1085.9" width="74.8" height="18.5" fill="#f6f6f6"/>
<g filter="url(#s6)"><path d="M347,1095 C349,1091.6 360,1091.2 372,1091.6 C380,1091.9 386,1092.2 388,1092.8 C398,1092.9 410,1092.9 420,1093.2 L420,1100.2 C410,1100.8 398,1100.9 388,1100.2 C386,1098.6 384,1099.4 372,1099.5 C360,1099.6 349,1099 347,1095Z" fill="#050505"/></g>
<rect x="345.4" y="1085.9" width="74.8" height="18.5" fill="none" stroke="#5a5a5a" stroke-width="1.1"/>
<text class="bl" x="429.7" y="1075">EphA4</text>
<text class="bl" x="429.7" y="1098.2">&#946;-actin</text>
</svg>
</body></html>
